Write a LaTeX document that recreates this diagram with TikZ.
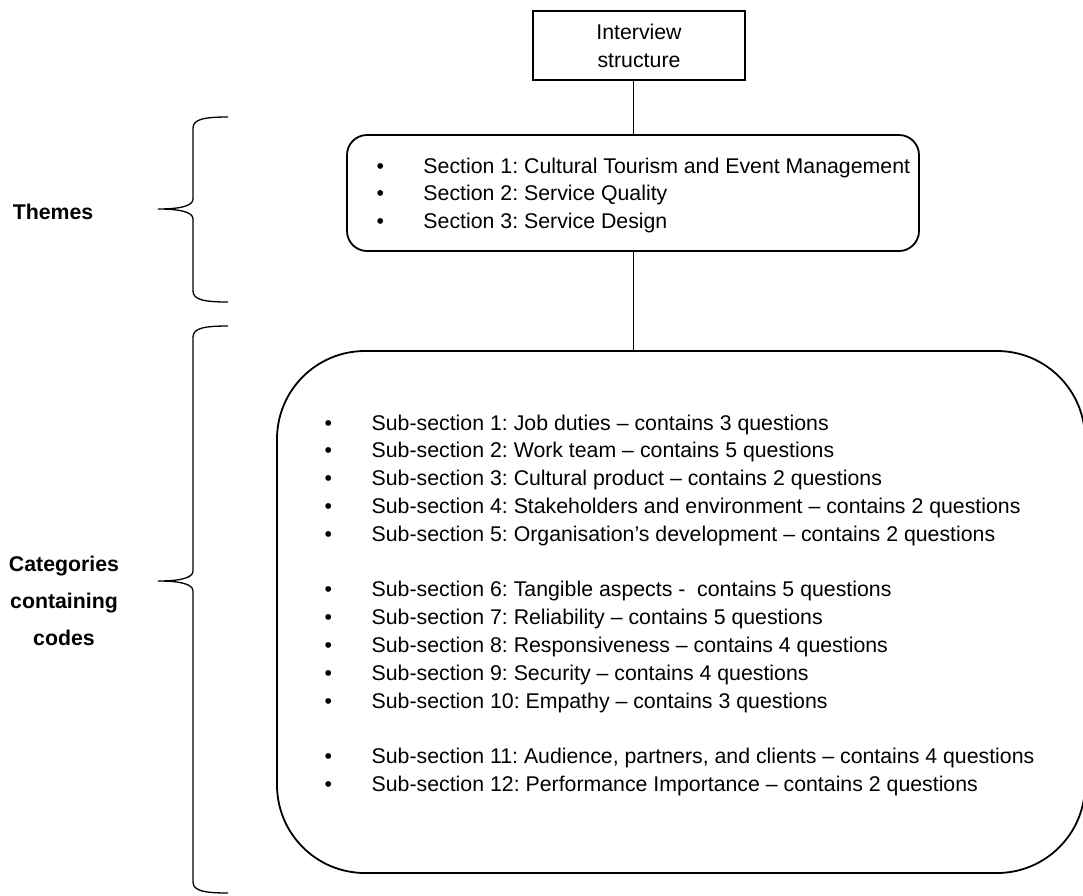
\documentclass[tikz,border=0pt]{standalone}
\usepackage{fontspec}
\setmainfont{Liberation Sans}
\frenchspacing
\begin{document}
\begin{tikzpicture}[x=1pt,y=-1pt,
  txt/.style={font=\fontsize{21.3}{27.8}\selectfont, inner sep=0pt},
  lbl/.style={font=\fontsize{21.3}{37}\selectfont\bfseries, inner sep=0pt, align=center},
  box/.style={draw, line width=1.8pt, inner sep=0pt},
  conn/.style={line width=1pt},
  brace/.style={line width=1.3pt}]
\useasboundingbox (0,0) rectangle (1083,895);
\newcommand{\bul}{\makebox[47pt][l]{\textbullet}}
% boxes
\node[box, txt, align=center, minimum width=212pt, minimum height=69pt] (top) at (639,45.5) {Interview\\structure};
\node[box, rounded corners=20pt, minimum width=572pt, minimum height=116pt] (themes) at (633,193) {};
\node[box, rounded corners=88pt, minimum width=808pt, minimum height=522pt] (cats) at (681,612) {};
% lists (base anchor = baseline of last line)
\node[txt, align=left, anchor=base west] (themelist) at (376.3,228.6) {\bul Section 1: Cultural Tourism and Event Management\\
\bul Section 2: Service Quality\\
\bul Section 3: Service Design};
\node[txt, align=left, anchor=base west] (catlist) at (324.5,791.4) {\bul Sub-section 1: Job duties -- contains 3 questions\\
\bul Sub-section 2: Work team -- contains 5 questions\\
\bul Sub-section 3: Cultural product -- contains 2 questions\\
\bul Sub-section 4: Stakeholders and environment -- contains 2 questions\\
\bul Sub-section 5: Organisation’s development -- contains 2 questions\\
\mbox{}\\
\bul Sub-section 6: Tangible aspects -\ \ contains 5 questions\\
\bul Sub-section 7: Reliability -- contains 5 questions\\
\bul Sub-section 8: Responsiveness -- contains 4 questions\\
\bul Sub-section 9: Security -- contains 4 questions\\
\bul Sub-section 10: Empathy -- contains 3 questions\\
\mbox{}\\
\bul Sub-section 11: Audience, partners, and clients -- contains 4 questions\\
\bul Sub-section 12: Performance Importance -- contains 2 questions};
% connectors
\draw[conn] (themes.north |- top.south) -- (themes.north);
\draw[conn] (themes.south) -- (themes.south |- cats.north);
% labels
\node[lbl, anchor=base] (themeslbl) at (53,219) {Themes};
\node[lbl, anchor=base] (catslbl) at (64,645) {Categories\\containing\\codes};
% braces
\draw[brace] (228,117) .. controls (205,117) and (193,119) .. (193,128) -- (193,199)
  .. controls (193,206) and (180,209) .. (158,209)
  .. controls (180,209) and (193,212) .. (193,219) -- (193,291)
  .. controls (193,300) and (205,302) .. (228,302);
\draw[brace] (228,326) .. controls (205,326) and (193,328) .. (193,337) -- (193,571)
  .. controls (193,578) and (180,581) .. (158,581)
  .. controls (180,581) and (193,584) .. (193,591) -- (193,882)
  .. controls (193,891) and (205,893) .. (228,893);
\end{tikzpicture}
\end{document}
